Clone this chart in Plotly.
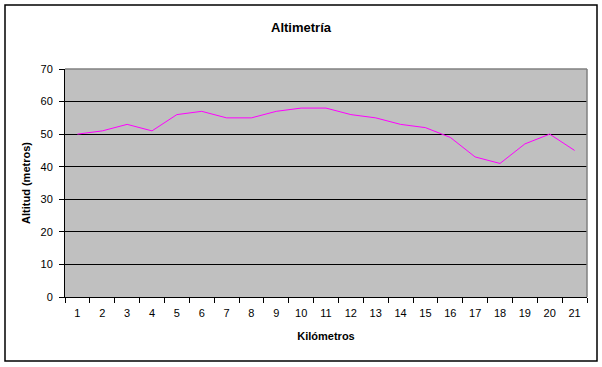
import plotly.graph_objects as go

km = [str(i) for i in range(1, 22)]
altitud = [50, 51, 53, 51, 56, 57, 55, 55, 57, 58, 58, 56, 55, 53, 52, 49, 43, 41, 47, 50, 45]
y_ticks = [0, 10, 20, 30, 40, 50, 60, 70]

W, H = 602, 367
L, R, T, B = 65, 15, 69, 70
pw, ph = W - L - R, H - T - B

fig = go.Figure(go.Scatter(x=km, y=altitud, mode="lines",
                           line=dict(color="#FF00FF", width=1)))

font = "Liberation Sans, Arial, sans-serif"
fig.update_layout(
    width=W, height=H,
    margin=dict(l=L, r=R, t=T, b=B),
    paper_bgcolor="white", plot_bgcolor="#C0C0C0",
    showlegend=False,
    font=dict(family=font, size=11, color="black"),
    title=dict(text="<b>Altimetría</b>", x=0.5, xanchor="center",
               y=1 - 27 / H, yanchor="middle", font=dict(size=13)),
    xaxis=dict(type="category", tickson="boundaries", ticks="outside",
               range=[-0.5, len(km) - 0.5], ticklabelstandoff=6,
               ticklen=5, tickcolor="black", showline=True, linecolor="black",
               linewidth=1, showgrid=False, zeroline=False,
               title=dict(text="<b>Kilómetros</b>", standoff=14, font=dict(size=11))),
    yaxis=dict(range=[0, 70], tickvals=y_ticks, ticks="outside", ticklen=5,
               ticklabelstandoff=4,
               tickcolor="black", showline=True, linecolor="black", linewidth=1,
               showgrid=True, gridcolor="black", gridwidth=1, zeroline=False,
               title=dict(text="<b>Altitud (metros)</b>", standoff=7, font=dict(size=11))),
)

# plot-area top and right edges (gray)
fig.add_shape(type="line", xref="paper", yref="paper", x0=0, x1=1, y0=1, y1=1,
              line=dict(color="#808080", width=1.5))
fig.add_shape(type="line", xref="paper", yref="paper", x0=1, x1=1, y0=0, y1=1,
              line=dict(color="#808080", width=1.5))
# outer chart border
fig.add_shape(type="rect", xref="paper", yref="paper",
              x0=(5 - L) / pw, x1=(597 - L) / pw,
              y0=(H - B - 361) / ph, y1=(H - B - 5) / ph,
              line=dict(color="black", width=1.5))

fig.write_html("out.html", config={"displayModeBar": False},
               post_script="document.body.style.margin='0';document.body.style.overflow='hidden';")
